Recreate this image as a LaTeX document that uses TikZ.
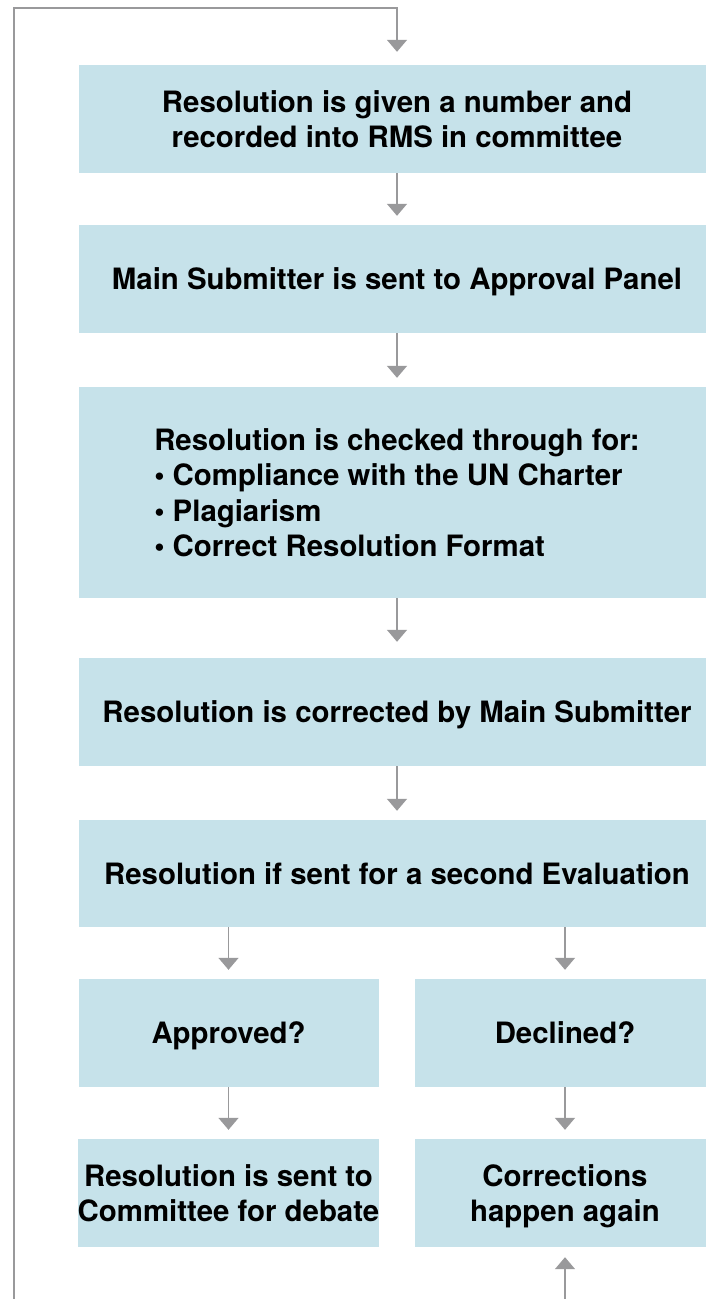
\documentclass[tikz,border=0pt]{standalone}
\usepackage{fontspec}
\setmainfont{TeX Gyre Heros}
\usetikzlibrary{arrows.meta}
\definecolor{boxblue}{RGB}{198,226,234}
\definecolor{flowgray}{RGB}{153,153,155}
\begin{document}
\begin{tikzpicture}[x=1pt, y=-1pt, >={Triangle[width=20pt,length=12pt]},
  box/.style={fill=boxblue, draw=none, minimum width=636pt, minimum height=108pt,
    inner sep=0pt, text depth=0pt, align=center,
    font={\bfseries\fontsize{29.4}{35.5}\selectfont}},
  halfbox/.style={box, minimum width=300pt},
  flow/.style={draw=flowgray, line width=1.5pt, ->, shorten >=9pt}]
\path[use as bounding box, clip] (0,0) rectangle (706,1299);
\node[box] (given) at (397,119) {Resolution is given a number and\\recorded into RMS in committee};
\node[box] (panel) at (397,279) {Main Submitter is sent to Approval Panel};
\node[box, minimum height=211pt, align=left] (check) at (397,492.5) {Resolution is checked through for:\\• Compliance with the UN Charter\\• Plagiarism\\• Correct Resolution Format};
\node[box] (corrected) at (397,712) {Resolution is corrected by Main Submitter};
\node[box, minimum height=107pt] (second) at (397,873.5) {Resolution if sent for a second Evaluation};
\node[halfbox] (approved) at (228.5,1033) {Approved?};
\node[halfbox] (declined) at (565,1033) {Declined?};
\node[halfbox] (debate) at (228.5,1193) {Resolution is sent to\\Committee for debate};
\node[halfbox] (again) at (565,1193) {Corrections\\happen again};
\coordinate (loopbot) at (14,1310);
\coordinate (looptop) at (397,8);
\coordinate (retbot) at (565,1310);
\draw[flow, shorten >=13pt] (loopbot) |- (looptop) -- (given);
\draw[flow] (given) -- (panel);
\draw[flow] (panel) -- (check);
\draw[flow, shorten >=16pt] (check) -- (corrected);
\draw[flow] (corrected) -- (second);
\draw[flow] (second.south -| approved) -- (approved);
\draw[flow] (second.south -| declined) -- (declined);
\draw[flow] (approved) -- (debate);
\draw[flow] (declined) -- (again);
\draw[flow, shorten >=10pt] (retbot) -- (again);
\end{tikzpicture}
\end{document}
